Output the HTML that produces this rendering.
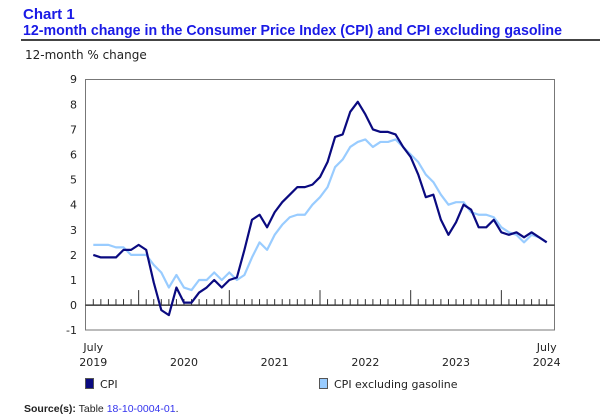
<!DOCTYPE html>
<html><head><meta charset="utf-8"><style>
body{margin:0;background:#fff;width:600px;height:415px;overflow:hidden}
svg{display:block}
</style></head><body>
<svg id="chart" width="600" height="415" xmlns="http://www.w3.org/2000/svg" font-family="'DejaVu Sans', 'Liberation Sans', sans-serif">
<text x="23" y="19" font-family="'Liberation Sans', sans-serif" font-weight="bold" font-size="15" fill="#1a1ae6">Chart 1</text>
<text x="23" y="35" font-family="'Liberation Sans', sans-serif" font-weight="bold" font-size="15" fill="#1a1ae6" textLength="539" lengthAdjust="spacingAndGlyphs">12-month change in the Consumer Price Index (CPI) and CPI excluding gasoline</text>
<rect x="21" y="39" width="579" height="2" fill="#444"/>
<text x="25" y="59" font-size="12" fill="#222">12-month % change</text>
<rect x="85.5" y="79.5" width="469" height="250.5" fill="none" stroke="#777" stroke-width="1"/>
<g id="yaxis"></g>
<g id="ticks"></g>
<g id="series"></g>
<g id="xlabels"></g>
<g>
<rect x="85.5" y="378.5" width="8" height="10" fill="#0a0a80" stroke="#555"/>
<text x="100" y="388" font-size="11" fill="#222">CPI</text>
<rect x="319.5" y="378.5" width="8" height="10" fill="#99ccff" stroke="#555"/>
<text x="334" y="388" font-size="11" fill="#222">CPI excluding gasoline</text>
</g>
<text x="24" y="412" font-family="'Liberation Sans', sans-serif" font-size="10.5" fill="#222"><tspan font-weight="bold">Source(s):</tspan> Table <tspan fill="#3333ee">18-10-0004-01</tspan>.</text>
</svg>
<script>
const startYear = 2019;
const cpi = [2.0,1.9,1.9,1.9,2.2,2.2,2.4,2.2,0.9,-0.2,-0.4,0.7,0.1,0.1,0.5,0.7,1.0,0.7,1.0,1.1,2.2,3.4,3.6,3.1,3.7,4.1,4.4,4.7,4.7,4.8,5.1,5.7,6.7,6.8,7.7,8.1,7.6,7.0,6.9,6.9,6.8,6.3,5.9,5.2,4.3,4.4,3.4,2.8,3.3,4.0,3.8,3.1,3.1,3.4,2.9,2.8,2.9,2.7,2.9,2.7,2.5];
const cpiExGas = [2.4,2.4,2.4,2.3,2.3,2.0,2.0,2.0,1.6,1.3,0.7,1.2,0.7,0.6,1.0,1.0,1.3,1.0,1.3,1.0,1.2,1.9,2.5,2.2,2.8,3.2,3.5,3.6,3.6,4.0,4.3,4.7,5.5,5.8,6.3,6.5,6.6,6.3,6.5,6.5,6.6,6.3,6.0,5.7,5.2,4.9,4.4,4.0,4.1,4.1,3.7,3.6,3.6,3.5,3.1,2.9,2.8,2.5,2.8,2.7,2.5];
const yTicks = [-1,0,1,2,3,4,5,6,7,8,9];
const yearLabels = ["2019","2020","2021","2022","2023","2024"];

const NS = "http://www.w3.org/2000/svg";
const n = cpi.length;
const x = i => 93.3 + i * (546.7 - 93.3) / (n - 1);
const y = v => 305.1 - v * 25.1;
function mk(tag, attrs, parent){const e=document.createElementNS(NS,tag);for(const k in attrs)e.setAttribute(k,attrs[k]);parent.appendChild(e);return e;}

const ya = document.getElementById('yaxis');
yTicks.forEach(v=>{
  const t = mk('text',{x:77,y:y(v)+4,'text-anchor':'end','font-size':11,fill:'#222'},ya);
  
  
  t.textContent = v;
});

const tk = document.getElementById('ticks');
const zl = mk('line',{x1:85.5,x2:554.5,y1:y(0),y2:y(0),stroke:'#111','stroke-width':1.2},tk);


for(let i=0;i<n;i++){
  const major = (i % 12) === 6;
  const l = mk('line',{x1:x(i),x2:x(i),y1:y(0),y2:y(0)-(major?15:6),stroke:'#333','stroke-width':1},tk);
  
  
}

const sg = document.getElementById('series');
function line(vals,color,name){
  const d = vals.map((v,i)=>(i?'L':'M')+x(i).toFixed(2)+' '+y(v).toFixed(2)).join(' ');
  const p = mk('path',{d:d,fill:'none',stroke:color,'stroke-width':2.2,'stroke-linejoin':'round'},sg);
  
  
}
line(cpiExGas,'#99ccff','cpi-ex-gasoline-line');
line(cpi,'#0a0a80','cpi-line');

const xl = document.getElementById('xlabels');
yearLabels.forEach((lab,k)=>{
  const cx = x(k*12);
  const t = mk('text',{x:cx,y:366,'text-anchor':'middle','font-size':11,fill:'#222'},xl);
  
  
  t.textContent = lab;
  if(k===0 || k===yearLabels.length-1){
    const m = mk('text',{x:cx,y:351,'text-anchor':'middle','font-size':11,fill:'#222'},xl);
    
    
    m.textContent = 'July';
  }
});
</script>
</body></html>
